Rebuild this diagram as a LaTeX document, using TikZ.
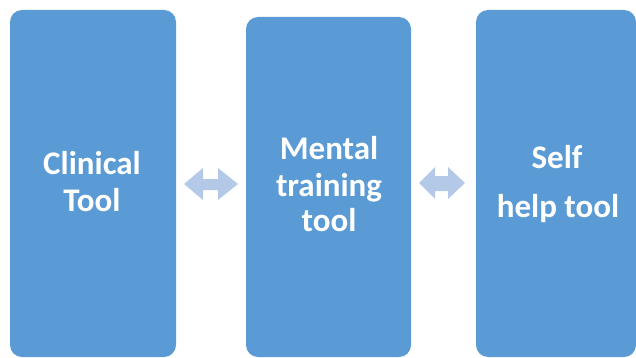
\documentclass[tikz,border=0pt]{standalone}
\usepackage{fontspec}
\setmainfont{Carlito}
\definecolor{boxblue}{HTML}{5B9BD5}
\definecolor{arrowblue}{HTML}{B4C8E7}
\begin{document}
\begin{tikzpicture}[x=1pt,y=-1pt,
  toolbox/.style={fill=boxblue,draw=none,rounded corners=12pt},
  tooltext/.style={text=white,font=\fontsize{33}{36}\selectfont\bfseries,anchor=base,inner sep=0pt},
  linkarrow/.style={fill=arrowblue,draw=none}]
\useasboundingbox (0,0) rectangle (636,358);
% boxes
\path[toolbox] (10,10) rectangle (176,357);
\path[toolbox] (246,17) rectangle (411,357);
\path[toolbox] (476,10) rectangle (636,357);
\node (b1) at (93,183) {};
\node (b2) at (328.5,187) {};
\node (b3) at (556,183) {};
% texts
\node[tooltext] (t1a) at (92,175) {Clinical};
\node[tooltext] (t1b) at (92,211) {Tool};
\node[tooltext] (t2a) at (329,160) {Mental};
\node[tooltext] (t2b) at (329,196) {training};
\node[tooltext] (t2c) at (329,231) {tool};
\node[tooltext] (t3a) at (557,168) {Self};
\node[tooltext] (t3b) at (558,217) {help tool};
% arrows
\fill[linkarrow] (184,184) -- (203,168) -- (203,179) -- (218,179) -- (218,168) -- (238,184)
  -- (218,200) -- (218,190) -- (203,190) -- (203,200) -- cycle;
\fill[linkarrow] (419,183) -- (435,167) -- (435,176) -- (448,176) -- (448,167) -- (465,183)
  -- (448,199) -- (448,191) -- (435,191) -- (435,199) -- cycle;
\end{tikzpicture}
\end{document}
